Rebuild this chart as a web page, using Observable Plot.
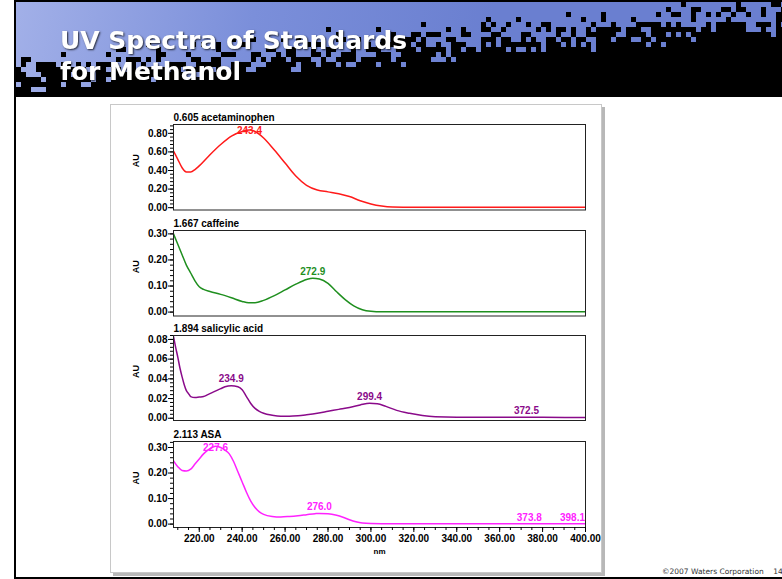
<!DOCTYPE html>
<html><head><meta charset="utf-8">
<script src="https://cdn.jsdelivr.net/npm/d3@7"></script>
<script src="https://cdn.jsdelivr.net/npm/@observablehq/plot@0.6"></script>
<style>
html,body{margin:0;padding:0;background:#fff;}
body{width:782px;height:579px;position:relative;overflow:hidden;font-family:"DejaVu Sans",sans-serif;}
#leftbar{position:absolute;left:14px;top:0;width:2px;height:579px;background:#000;}
#bottombar{position:absolute;left:14px;top:577px;width:768px;height:2px;background:#000;}
#topbar{position:absolute;left:14px;top:0;width:768px;height:2px;background:#000;}
#header{position:absolute;left:16px;top:2px;width:766px;height:95px;display:block;}
#title{position:absolute;left:60px;top:25px;color:#fff;font:bold 25px/31px "DejaVu Sans",sans-serif;text-shadow:1px 1px 2px rgba(0,0,0,0.75);white-space:nowrap;}
#panel{position:absolute;left:110px;top:104px;width:490px;height:467px;border:1px solid #c8c8c8;box-shadow:3px 3px 0 #b8b8b8;background:#fff;}
.plot{position:absolute;left:110px;}
#footer{position:absolute;left:662px;top:567px;font:7.5px "DejaVu Sans",sans-serif;color:#333;white-space:nowrap;}
</style></head>
<body>
<div id="leftbar"></div>
<div id="topbar"></div>
<canvas id="header" width="766" height="95"></canvas>
<div id="title">UV Spectra of Standards<br>for Methanol</div>
<div id="panel"></div>
<div id="plots"></div>
<div id="footer">©2007 Waters Corporation&nbsp;&nbsp;&nbsp;&nbsp;14</div>
<div id="bottombar"></div>
<script>
// ---- data (nm, AU) ----
const xDomain = [208, 400];
const xTicks = [220, 240, 260, 280, 300, 320, 340, 360, 380, 400];

const acetaminophen = [[208,0.61],[210,0.52],[212,0.43],[214,0.385],[216,0.385],[218,0.41],[220,0.45],[225,0.57],[230,0.68],[235,0.77],[240,0.82],[243.4,0.835],[246,0.82],[250,0.75],[255,0.62],[260,0.48],[265,0.34],[270,0.24],[275,0.19],[280,0.17],[285,0.15],[290,0.12],[295,0.075],[300,0.04],[305,0.018],[310,0.008],[320,0.005],[400,0.005]];
const caffeine = [[208,0.30],[210,0.26],[212,0.22],[214,0.18],[216,0.15],[218,0.12],[220,0.097],[222,0.087],[225,0.079],[230,0.068],[235,0.055],[240,0.041],[243,0.036],[246,0.036],[250,0.045],[255,0.063],[260,0.085],[265,0.107],[270,0.125],[272.9,0.13],[276,0.127],[280,0.11],[284,0.078],[288,0.048],[292,0.024],[296,0.009],[300,0.003],[305,0.001],[400,0.001]];
const salicylic = [[208,0.083],[209,0.072],[210,0.062],[211,0.051],[212,0.042],[213,0.034],[214,0.028],[215,0.025],[216,0.022],[218,0.021],[220,0.0215],[222,0.022],[224,0.024],[226,0.026],[228,0.028],[230,0.030],[232,0.032],[234.9,0.033],[238,0.032],[240,0.029],[242,0.022],[244,0.015],[246,0.010],[248,0.007],[250,0.005],[254,0.003],[258,0.002],[262,0.002],[266,0.0025],[270,0.0035],[275,0.005],[280,0.007],[285,0.009],[290,0.011],[295,0.0135],[299.4,0.0152],[303,0.0148],[307,0.012],[312,0.008],[318,0.005],[324,0.0027],[330,0.0015],[340,0.001],[350,0.001],[360,0.0009],[372.5,0.0011],[380,0.0009],[400,0.0008]];
const asa = [[208,0.248],[210,0.225],[212,0.21],[214,0.208],[216,0.215],[218,0.235],[220,0.255],[222,0.275],[224,0.29],[226,0.30],[227.6,0.305],[230,0.30],[232,0.29],[234,0.275],[236,0.245],[238,0.205],[240,0.165],[242,0.125],[244,0.09],[246,0.065],[248,0.048],[250,0.038],[254,0.03],[258,0.028],[262,0.03],[266,0.033],[270,0.037],[274,0.041],[276,0.042],[280,0.041],[284,0.035],[287,0.027],[290,0.017],[293,0.009],[296,0.004],[300,0.002],[310,0.001],[400,0.001]];

const acetPeaks = [[243.4,0.835]];
const caffPeaks = [[272.9,0.13]];
const saliPeaks = [[234.9,0.033],[299.4,0.0152],[372.5,0.0011]];
const asaPeaks = [[227.6,0.305],[276.0,0.042],[373.8,0.001],[398.1,0.001]];

const titles = ["0.605 acetaminophen","1.667 caffeine","1.894 salicylic acid","2.113 ASA"];
const colors = ["#ff1a1a","#1f8f1f","#8a0a8a","#ff22ff"];
const yDomains = [[-0.025,0.895],[-0.015,0.313],[-0.0023,0.084],[-0.0133,0.3235]];
const yTicks = [[0,0.2,0.4,0.6,0.8],[0,0.1,0.2,0.3],[0,0.02,0.04,0.06,0.08],[0,0.1,0.2,0.3]];
const yMinorSteps = [0.04,0.02,0.004,0.02];

const series = [acetaminophen, caffeine, salicylic, asa];
const peaks = [acetPeaks, caffPeaks, saliPeaks, asaPeaks];
const frameTops = [123.5, 229.5, 335, 441];
const innerHs = [85.5, 85.5, 85, 86];

// ---- decorative slide header (pixel-dissolve from blue to black) ----
(function drawHeader(){
  const c = document.getElementById("header"), g = c.getContext("2d");
  const W = c.width, H = c.height;
  const bg = g.createLinearGradient(0, 0, W*0.6, H);
  bg.addColorStop(0, "#a2b0e8"); bg.addColorStop(0.5, "#7b8fda"); bg.addColorStop(1, "#6a7fd0");
  g.fillStyle = bg; g.fillRect(0, 0, W, H);
  const hash = (i, j) => { const s = Math.sin(i*12.9898 + j*78.233)*43758.5453; return s - Math.floor(s); };
  const cell = 5;
  for (let j = 0; j*cell < H; j++) for (let i = 0; i*cell < W; i++) {
    const x = i*cell + cell/2, y = j*cell + cell/2;
    const b = 70 - 54*(x/W);
    const p = Math.max(0, Math.min(1, (y - b)/44 + 0.5));
    if (hash(i, j) < p) { g.fillStyle = "#000"; g.fillRect(i*cell, j*cell, cell, cell); }
  }
})();

const font = '"Liberation Sans", Arial, Helvetica, sans-serif';
const fmt2 = d3.format(".2f");

function minorTicks(domain, step){
  const out = [];
  const n0 = Math.ceil(domain[0]/step - 1e-9), n1 = Math.floor(domain[1]/step + 1e-9);
  for (let i = n0; i <= n1; i++) out.push(+(i*step).toFixed(6));
  return out;
}

const host = document.getElementById("plots");
series.forEach((data, i) => {
  const last = i === series.length - 1;
  const mt = 16, mb = last ? 34 : 4;
  const innerH = innerHs[i];
  const yd = yDomains[i];
  const k = (yd[1]-yd[0]) / innerH;
  const labelY = d => Math.min(d[1], yd[1] - 13*k);
  const inner = peaks[i].filter(p => p[0] <= 390);
  const edge = peaks[i].filter(p => p[0] > 390);
  const color = colors[i];
  const marks = [
    Plot.axisY({ticks: minorTicks(yd, yMinorSteps[i]), tickSize: 3, fill: "none", label: null}),
    Plot.axisY({ticks: yTicks[i], tickSize: 5, tickPadding: 1, tickFormat: fmt2, label: null}),
    Plot.line(data, {x: d => d[0], y: d => d[1], stroke: color, strokeWidth: 1.5, curve: "monotone-x", clip: true}),
    Plot.frame({stroke: "#222"}),
    Plot.text([titles[i]], {frameAnchor: "top-left", textAnchor: "start", lineAnchor: "bottom", dy: -3.5, fill: "#000"}),
    Plot.text(["AU"], {frameAnchor: "left", rotate: -90, dx: -37, fontSize: 9, fill: "#000"}),
    Plot.text(inner, {x: d => d[0], y: labelY, dy: -6.5, text: d => d[0].toFixed(1), fill: color, lineAnchor: "middle"}),
    Plot.text(edge, {x: () => xDomain[1], y: labelY, dy: -6.5, dx: -0.5, text: d => d[0].toFixed(1), fill: color, lineAnchor: "middle", textAnchor: "end"})
  ];
  if (last) {
    marks.push(
      Plot.axisX({ticks: minorTicks([210, 400], 5), tickSize: 3, fill: "none", label: null}),
      Plot.axisX({ticks: xTicks, tickSize: 5, tickPadding: 2, tickFormat: fmt2, label: null}),
      Plot.text(["nm"], {frameAnchor: "bottom", dy: 23.5, lineAnchor: "middle", fontSize: 8, fill: "#000"})
    );
  }
  const svg = Plot.plot({
    width: 492, height: mt + innerH + mb,
    marginLeft: 63, marginRight: 17, marginTop: mt, marginBottom: mb,
    style: {fontFamily: font, fontWeight: "bold", fontSize: "10px", color: "#000", background: "transparent", overflow: "visible"},
    x: {domain: xDomain, axis: null},
    y: {domain: yd, axis: null},
    marks
  });
  svg.classList.add("plot");
  svg.style.top = (frameTops[i] - mt) + "px";
  host.appendChild(svg);
});
</script>
</body></html>
